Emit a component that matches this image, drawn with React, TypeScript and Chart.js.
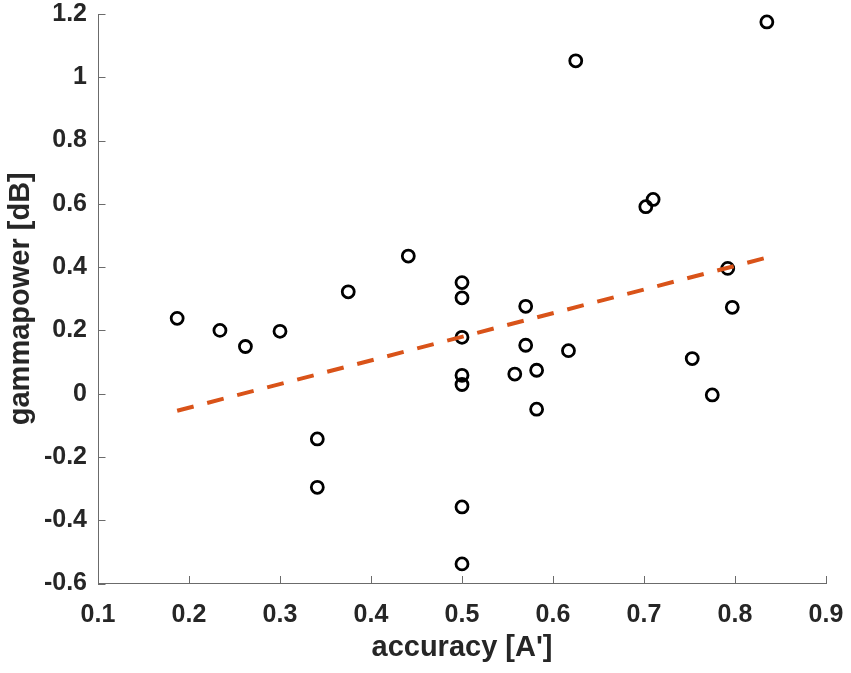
import { useEffect, useRef } from "react"
import { Chart, registerables } from "chart.js"
import type { Plugin } from "chart.js"

Chart.register(...registerables)

// scatter points
const accuracy = [
  0.187, 0.234, 0.262, 0.3, 0.375, 0.341, 0.341, 0.441, 0.5, 0.5, 0.5, 0.5, 0.5, 0.5, 0.5,
  0.57, 0.57, 0.558, 0.582, 0.582, 0.617, 0.625, 0.702, 0.71, 0.753, 0.775, 0.792, 0.797, 0.835,
]
const gammaPower = [
  0.238, 0.2, 0.149, 0.197, 0.322, -0.143, -0.296, 0.435, 0.351, 0.303, 0.178, 0.058, 0.029, -0.358, -0.538,
  0.276, 0.153, 0.062, 0.074, -0.049, 0.136, 1.052, 0.591, 0.614, 0.111, -0.004, 0.396, 0.273, 1.175,
]

// regression line end points
const fitX = [0.187, 0.835]
const fitY = [-0.054, 0.43]

const xTicks = [0.1, 0.2, 0.3, 0.4, 0.5, 0.6, 0.7, 0.8, 0.9]
const yTicks = [-0.6, -0.4, -0.2, 0, 0.2, 0.4, 0.6, 0.8, 1, 1.2]

const axisColor = "#6b6b6b"
const textColor = "#262626"
const fontFamily = "'Liberation Sans', Arial, sans-serif"

// MATLAB style ticks pointing into the plot
const inwardTicks: Plugin<"scatter"> = {
  id: "inwardTicks",
  afterDraw(chart) {
    const { ctx, chartArea, scales } = chart
    ctx.save()
    ctx.strokeStyle = axisColor
    ctx.lineWidth = 1
    ctx.beginPath()
    xTicks.forEach((v) => {
      const px = Math.round(scales.x.getPixelForValue(v)) + 0.5
      ctx.moveTo(px, chartArea.bottom)
      ctx.lineTo(px, chartArea.bottom - 7.5)
    })
    yTicks.forEach((v) => {
      const py = Math.round(scales.y.getPixelForValue(v)) + 0.5
      ctx.moveTo(chartArea.left, py)
      ctx.lineTo(chartArea.left + 7.5, py)
    })
    ctx.stroke()
    ctx.restore()
  },
}

const fmt = (v: number | string) => String(Math.round(Number(v) * 10) / 10)

export default function App() {
  const chartRef = useRef<HTMLCanvasElement>(null)
  const chartInstance = useRef<Chart | null>(null)

  useEffect(() => {
    document.body.style.margin = "0"
    if (!chartRef.current) return
    if (chartInstance.current) chartInstance.current.destroy()

    const ctx = chartRef.current.getContext("2d")
    if (!ctx) return

    const points = accuracy.map((x, i) => ({ x, y: gammaPower[i] }))
    const fit = fitX.map((x, i) => ({ x, y: fitY[i] }))

    chartInstance.current = new Chart(ctx, {
      type: "scatter",
      data: {
        datasets: [
          {
            type: "line",
            label: "fit",
            data: fit,
            borderColor: "#D95319",
            borderWidth: 4,
            borderDash: [17, 14],
            pointRadius: 0,
            fill: false,
            order: 0,
          },
          {
            label: "subjects",
            data: points,
            pointStyle: "circle",
            pointRadius: 6,
            pointBorderWidth: 2.8,
            pointBorderColor: "#000",
            pointBackgroundColor: "rgba(0,0,0,0)",
            order: 1,
          },
        ],
      },
      options: {
        responsive: true,
        maintainAspectRatio: false,
        animation: false,
        layout: { padding: { top: 14, right: 25, left: 0, bottom: 0 } },
        plugins: {
          legend: { display: false },
          tooltip: { enabled: false },
        },
        scales: {
          x: {
            type: "linear",
            min: 0.1,
            max: 0.9,
            grid: { display: false, drawTicks: false },
            border: { display: true, color: axisColor, width: 1 },
            afterBuildTicks: (scale) => {
              scale.ticks = xTicks.map((value) => ({ value }))
            },
            afterFit: (scale) => {
              scale.height = 89.5
              scale.paddingLeft = 0
              scale.paddingRight = 0
            },
            ticks: {
              padding: 17,
              color: textColor,
              font: { family: fontFamily, size: 25, weight: "bold" },
              callback: (v) => fmt(v),
            },
            title: {
              display: true,
              text: "accuracy [A']",
              color: textColor,
              font: { family: fontFamily, size: 29, weight: "bold" },
              padding: { top: 0, bottom: 8 },
            },
          },
          y: {
            type: "linear",
            min: -0.6,
            max: 1.2,
            grid: { display: false, drawTicks: false },
            border: { display: true, color: axisColor, width: 1 },
            afterBuildTicks: (scale) => {
              scale.ticks = yTicks.map((value) => ({ value }))
            },
            afterFit: (scale) => {
              scale.width = 98
              scale.paddingTop = 0
              scale.paddingBottom = 0
            },
            ticks: {
              padding: 11,
              color: textColor,
              font: { family: fontFamily, size: 25, weight: "bold" },
              callback: (v) => fmt(v),
            },
            title: {
              display: true,
              text: "gammapower [dB]",
              color: textColor,
              font: { family: fontFamily, size: 29, weight: "bold" },
              padding: { top: 4, bottom: 0 },
            },
          },
        },
      },
      plugins: [inwardTicks],
    })

    return () => {
      if (chartInstance.current) {
        chartInstance.current.destroy()
        chartInstance.current = null
      }
    }
  }, [])

  return (
    <div style={{ width: 851, height: 673, position: "relative", background: "#fff" }}>
      <canvas ref={chartRef} aria-label="gammapower vs accuracy scatter"></canvas>
    </div>
  )
}
